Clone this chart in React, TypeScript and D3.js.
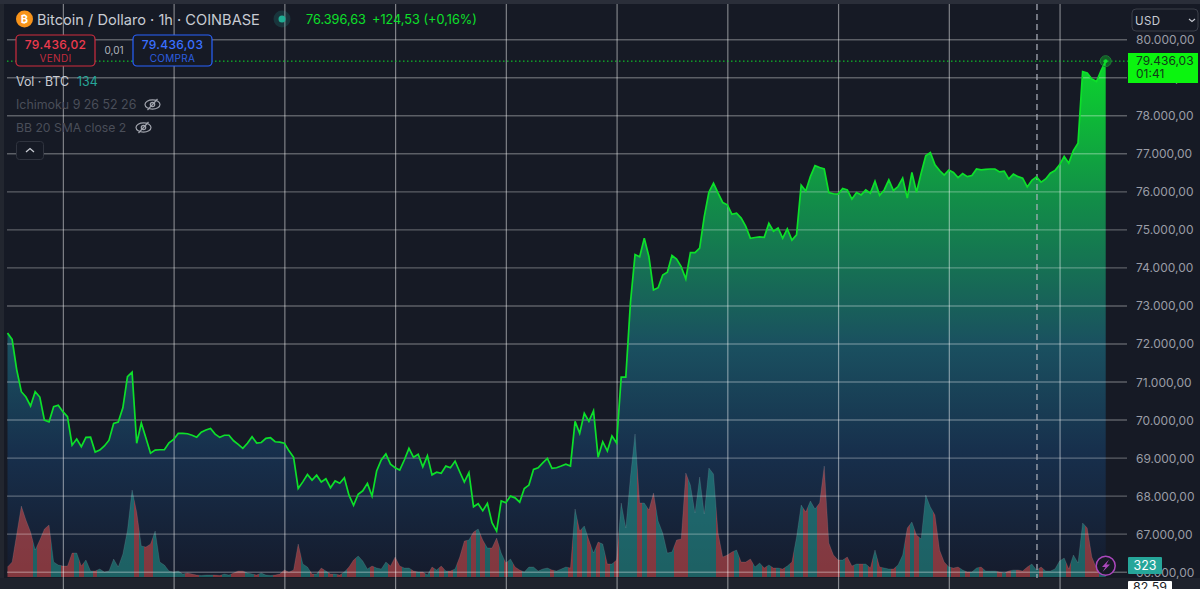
import * as d3 from 'd3'

const prices = [
  72290, 72120, 71320, 70745, 70605, 70370, 70745, 70605, 70000, 69950,
  70350, 70390, 70220, 70090, 69340, 69500, 69300, 69545, 69550, 69160,
  69210, 69320, 69470, 69910, 69950, 70320, 71140, 71260, 69390, 69920,
  69530, 69130, 69210, 69220, 69220, 69400, 69490, 69650, 69650, 69640,
  69600, 69550, 69680, 69740, 69780, 69630, 69545, 69600, 69600, 69455,
  69360, 69255, 69390, 69560, 69395, 69410, 69520, 69535, 69430, 69420,
  69390, 69190, 69020, 68200, 68375, 68570, 68420, 68550, 68370, 68455,
  68220, 68400, 68340, 68480, 68025, 67760, 68050, 68140, 68335, 68000,
  68660, 68950, 69110, 68840, 68745, 68685, 68950, 69255, 69020, 69100,
  68770, 69060, 68560, 68630, 68600, 68790, 68745, 68920, 68640, 68370,
  68615, 67720, 67800, 67615, 67810, 67300, 67080, 67875, 67825, 68000,
  67955, 67840, 68200, 68290, 68700, 68745, 68875, 68990, 68730, 68745,
  68790, 68840, 68790, 69965, 69650, 70175, 69965, 70245, 69020, 69430,
  69185, 69580, 69400, 71130, 71130, 73080, 74350, 74290, 74780, 74300,
  73420, 73480, 73810, 73885, 74325, 74230, 74035, 73710, 74400, 74400,
  74520, 75350, 75990, 76230, 75965, 75720, 75660, 75410, 75440, 75310,
  75090, 74780, 74800, 74815, 74805, 75175, 74965, 75050, 74780, 75025,
  74730, 74870, 76175, 76020, 76400, 76690, 76640, 76600, 75980, 75950,
  75940, 76090, 76050, 75810, 75980, 75920, 76050, 75965, 76280, 75910,
  76050, 76315, 76035, 76140, 76360, 75835, 76510, 75990, 76490, 76950,
  77035, 76710, 76560, 76440, 76570, 76510, 76375, 76480, 76400, 76430,
  76600, 76580, 76590, 76600, 76600, 76525, 76545, 76340, 76465, 76400,
  76360, 76130, 76300, 76395, 76255, 76340, 76490, 76560, 76710, 76930,
  76755, 77085, 77280, 79160, 79125, 78965, 78900, 79190, 79436,
]

const volumes = [
  280, 420, 1204, 1988, 1596, 1260, 756, 1036, 1344, 1456,
  420, 336, 308, 308, 672, 672, 308, 476, 168, 168,
  224, 140, 168, 504, 280, 644, 1316, 2436, 1820, 868,
  840, 924, 1288, 420, 336, 168, 140, 168, 84, 112,
  84, 56, 42, 56, 56, 56, 42, 84, 56, 112,
  168, 168, 112, 84, 56, 112, 56, 42, 56, 84,
  196, 140, 196, 924, 364, 280, 84, 84, 252, 168,
  84, 84, 56, 140, 280, 476, 588, 448, 224, 308,
  252, 224, 420, 308, 560, 308, 252, 252, 168, 140,
  140, 56, 280, 196, 308, 168, 168, 224, 560, 1008,
  1036, 1260, 1344, 1036, 812, 812, 1092, 672, 392, 504,
  280, 196, 140, 280, 280, 168, 224, 252, 196, 168,
  224, 280, 252, 1904, 1288, 1428, 1036, 672, 980, 924,
  364, 364, 476, 2072, 1372, 2800, 4004, 2072, 2072, 1876,
  2352, 1568, 1232, 672, 700, 1036, 1064, 2912, 2576, 1792,
  2800, 1764, 3052, 2884, 1232, 560, 616, 700, 756, 420,
  420, 504, 280, 392, 252, 336, 252, 252, 224, 308,
  420, 1120, 2016, 1820, 2128, 1904, 2072, 3108, 952, 616,
  476, 476, 560, 308, 364, 364, 364, 252, 756, 280,
  252, 224, 224, 336, 616, 1372, 1540, 1176, 1064, 2296,
  1960, 1736, 756, 420, 280, 252, 280, 196, 140, 140,
  252, 280, 168, 168, 168, 140, 112, 168, 196, 196,
  168, 280, 364, 196, 280, 168, 168, 224, 448, 532,
  224, 616, 392, 1512, 1372, 560, 252, 140, 84,
]

const priceTicks = [80000, 79000, 78000, 77000, 76000, 75000, 74000, 73000, 72000, 71000, 70000, 69000, 68000, 67000, 66000]
const hourTicks = [12, 36, 60, 84, 108, 132, 156, 180, 204, 228]
const crosshairHour = 223

const width = 1200
const height = 589
const lastPrice = 79436
const fmt = (v: number) => v.toLocaleString('de-DE', { minimumFractionDigits: 2, maximumFractionDigits: 2 })

export default function App() {
  const x = d3.scaleLinear().domain([0, prices.length - 1]).range([7.5, 1105.7])
  const y = d3.scaleLinear().domain([80000, 66000]).range([39.7, 572.2])
  const yVol = d3.scaleLinear().domain([0, 4004]).range([577, 434])
  const hours = prices.map((_, i) => i)
  const step = x(1) - x(0)

  const priceLine = d3.line<number>().x(i => x(i)).y(i => y(prices[i]))
  const priceArea = d3.area<number>().x(i => x(i)).y0(577).y1(i => y(prices[i]))
  const volArea = d3.area<number>().x(i => x(i)).y0(yVol(0)).y1(i => yVol(volumes[i]))
  const volTop = d3.line<number>().x(i => x(i)).y(i => yVol(volumes[i]))

  const font = 'Inter, "Noto Sans", sans-serif'
  const green = '#0de02a'

  return (
    <svg width={width} height={height} style={{ position: 'fixed', left: 0, top: 0, display: 'block', background: '#161a25' }} fontFamily={font}>
      <defs>
        <linearGradient id="fillGrad" gradientUnits="userSpaceOnUse" x1="0" y1="61" x2="0" y2="577">
          <stop offset="0" stopColor="#0bd62c" />
          <stop offset="0.27" stopColor="#128d48" />
          <stop offset="0.55" stopColor="#1a5060" />
          <stop offset="0.76" stopColor="#172f4c" />
          <stop offset="1" stopColor="#151b2c" />
        </linearGradient>
        <clipPath id="volClip">
          <path d={volArea(hours) ?? ''} />
        </clipPath>
      </defs>

      <rect x={0} y={0} width={width} height={4} fill="#2a2e39" />
      <rect x={0} y={4} width={4} height={574} fill="#22262f" />
      <rect x={0} y={578} width={width} height={11} fill="#1e222c" />

      <path d={priceArea(hours) ?? ''} fill="url(#fillGrad)" />

      {/* volume colour follows the hour's direction */}
      <g clipPath="url(#volClip)" shapeRendering="crispEdges">
        {hours.map(i => (
          <rect
            key={i}
            x={x(i) - step / 2}
            y={430}
            width={step}
            height={150}
            fill={i > 0 && prices[i] >= prices[i - 1] ? '#26a69a' : '#ef5350'}
            fillOpacity={0.5}
          />
        ))}
      </g>
      <path d={volTop(hours) ?? ''} fill="none" stroke="#fff" strokeOpacity={0.1} />

      {priceTicks.map(t => (
        <line key={t} x1={7} x2={1127} y1={y(t)} y2={y(t)} stroke="#fff" strokeOpacity={0.3} strokeWidth={1.4} />
      ))}
      {hourTicks.map(h => (
        <line key={h} x1={x(h) + 0.5} x2={x(h) + 0.5} y1={4} y2={height} stroke="#fff" strokeOpacity={0.45} strokeWidth={1.2} />
      ))}
      <line x1={x(crosshairHour) + 0.5} x2={x(crosshairHour) + 0.5} y1={4} y2={578} stroke="#aeb2bc" strokeWidth={1.2} strokeDasharray="6 4" />
      <line x1={7} x2={1128} y1={y(lastPrice)} y2={y(lastPrice)} stroke={green} strokeWidth={1} strokeDasharray="1.5 2.5" />

      <path d={priceLine(hours) ?? ''} fill="none" stroke={green} strokeWidth={1.7} />
      <circle cx={x(prices.length - 1)} cy={y(lastPrice)} r={5.5} fill={green} fillOpacity={0.35} stroke="#1c7a34" />
      <circle cx={x(prices.length - 1)} cy={y(lastPrice)} r={1.8} fill={green} />

      {priceTicks.map(t => (
        <text key={t} x={1136} y={y(t) + 4.5} fontSize={12} fill="#9a9da6">{fmt(t)}</text>
      ))}

      <circle cx={24.5} cy={19} r={8.5} fill="#f7931a" />
      <text x={24.5} y={23} fontSize={11} fontWeight={700} fill="#fff" textAnchor="middle">₿</text>
      <text x={37} y={25} fontSize={14.6} fill="#c8cbd3">Bitcoin / Dollaro · 1h · COINBASE</text>
      <circle cx={282} cy={19} r={8.5} fill="#26a69a" fillOpacity={0.2} />
      <circle cx={282} cy={19} r={3.5} fill="#1fae93" />
      <text x={306} y={24} fontSize={12.7} fill={green}>76.396,63</text>
      <text x={372} y={24} fontSize={12.7} fill={green}>+124,53 (+0,16%)</text>

      <rect x={16} y={35} width={79} height={31} rx={4} fill="#161a25" stroke="#d02c3f" strokeWidth={1.2} />
      <text x={55.5} y={49} fontSize={12} fontWeight={500} fill="#ee3a4e" textAnchor="middle" letterSpacing={0.3}>79.436,02</text>
      <text x={55.5} y={62} fontSize={10} fill="#c22c3e" textAnchor="middle" letterSpacing={0.3}>VENDI</text>
      <text x={114} y={54} fontSize={10} fill="#b2b5be" textAnchor="middle">0,01</text>
      <rect x={133} y={35} width={79} height={31} rx={4} fill="#161a25" stroke="#2962ff" strokeWidth={1.2} />
      <text x={172.5} y={49} fontSize={12} fontWeight={500} fill="#3a70ff" textAnchor="middle" letterSpacing={0.3}>79.436,03</text>
      <text x={172.5} y={62} fontSize={10} fill="#2c5fe0" textAnchor="middle" letterSpacing={0.3}>COMPRA</text>

      <text x={16} y={86} fontSize={12.4} fill="#c8cbd3">Vol · BTC</text>
      <text x={77} y={86} fontSize={12.4} fill="#26a69a">134</text>
      <text x={16} y={109} fontSize={12.4} fill="#4a4e59">Ichimoku 9 26 52 26</text>
      <text x={16} y={132} fontSize={12.2} fill="#4a4e59">BB 20 SMA close 2</text>
      {[[152.5, 104.5], [143.5, 127.5]].map(([cx, cy]) => (
        <g key={cx} fill="none" stroke="#a0a3ac" strokeWidth={1.2}>
          <ellipse cx={cx} cy={cy} rx={7.5} ry={4.6} />
          <circle cx={cx} cy={cy} r={2.2} />
          <line x1={cx - 5} y1={cy + 5.5} x2={cx + 5} y2={cy - 5.5} />
        </g>
      ))}
      <rect x={16.5} y={141.5} width={27} height={18} rx={3} fill="#161a25" stroke="#30343f" />
      <path d="M26 152 L30 148.5 L34 152" fill="none" stroke="#c8cbd3" strokeWidth={1.3} />

      <rect x={1132} y={9} width={66} height={22} rx={4} fill="#161a25" stroke="#3a3e49" />
      <text x={1135} y={24.5} fontSize={11.5} fill="#c8cbd3" letterSpacing={0.4}>USD</text>
      <path d="M1189 19 L1192 21.5 L1195 19" fill="none" stroke="#c8cbd3" strokeWidth={1.1} />

      <rect x={1128} y={53} width={70} height={30} fill="#0bf50f" />
      <text x={1136} y={65} fontSize={12} fill="#123a18">79.436,03</text>
      <text x={1136} y={78} fontSize={12} fill="#123a18">01:41</text>

      <rect x={1128} y={557} width={34} height={17} rx={1} fill="#26a69a" />
      <text x={1145} y={570} fontSize={12.4} fill="#fff" textAnchor="middle">323</text>
      <rect x={1128} y={581} width={44} height={12} rx={1} fill="#fff" />
      <text x={1150} y={592} fontSize={12.4} fill="#1a1d26" textAnchor="middle">82,59</text>

      <circle cx={1105.7} cy={565.7} r={9.5} fill="#161a25" stroke="#ab47bc" strokeWidth={1.5} />
      <path d="M1109 559.5 L1102 567 L1105.5 567 L1102.5 572 L1110 564.6 L1106.3 564.6 Z" fill="#ab47bc" />
    </svg>
  )
}
